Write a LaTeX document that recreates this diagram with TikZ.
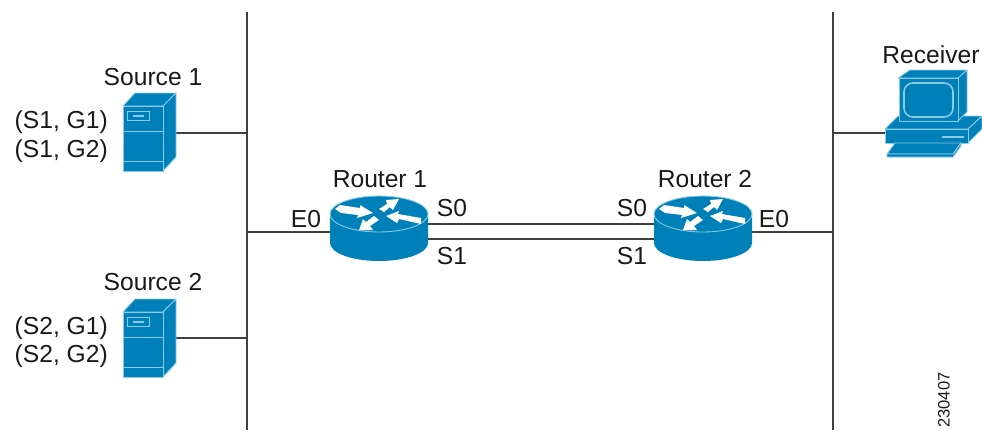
\documentclass[tikz,border=0pt]{standalone}
\usepackage{fontspec}
\setmainfont{Liberation Sans}
\usetikzlibrary{positioning}
\definecolor{iconblue}{HTML}{0080B9}
\definecolor{iconedge}{HTML}{8CCBE6}
\tikzset{
  wire/.style={draw=black!75,line width=.35pt},
  lab/.style={inner sep=0pt,font=\fontsize{7}{8}\selectfont,text=black!90},
  iconbox/.style={inner sep=0pt,outer sep=0pt},
  face/.style={fill=iconblue,draw=iconedge,line width=.25pt,line join=round},
  flash/.style={draw=iconedge,line width=.25pt},
  server/.pic={
    \begin{scope}[yscale=-1]
    \draw[face] (0,0) -- (12,13) -- (53,13) -- (40,0) -- cycle;
    \draw[face] (40,0) -- (53,13) -- (53,-51) -- (40,-65) -- cycle;
    \draw[face] (0,0) rectangle (40,-65);
    \draw[flash] (0,-25) -- (40,-25);
    \draw[flash] (0,-55) -- (40,-55);
    \draw[flash] (4,-5) rectangle (26,-14);
    \draw[flash,line width=.5pt] (10,-10) -- (21,-10);
    \end{scope}
  },
  routericon/.pic={
    \begin{scope}[yscale=-1]
    \fill[iconblue] (-49,0) -- (-49,-29) arc (180:360:49 and 18) -- (49,0) -- cycle;
    \draw[face] (0,0) ellipse (49 and 18);
    \end{scope}
    \fill[white] (-44,-5) -- (-39,-9) -- (-19,-6) -- (-19,-9) -- (-6,-1) -- (-22,4) -- (-21,1) -- (-38,-1) -- cycle;
    \fill[white] (0,-5) -- (8,-10) -- (7,-14) -- (20,-15) -- (14,-4) -- (11,-7) -- (5,-2) -- cycle;
    \fill[white] (7,2) -- (20,-3) -- (19,0) -- (42,4) -- (42,10) -- (20,5) -- (18,9) -- cycle;
    \fill[white] (-20,16) -- (-16,5) -- (-13,8) -- (-5,2) -- (0,6) -- (-9,12) -- (-6,16) -- cycle;
  },
  pcicon/.pic={
    \draw[face] (0,43) -- (13,30) -- (97,30) -- (83,43) -- cycle;
    \draw[face] (83,43) -- (97,30) -- (97,43) -- (83,57) -- cycle;
    \draw[face] (0,43) rectangle (83,57);
    \draw[flash,line width=.5pt] (57,51) -- (79,51);
    \draw[face] (13,-8) -- (25,-16) -- (82,-16) -- (73,-8) -- cycle;
    \draw[face] (73,-8) -- (82,-16) -- (82,26) -- (73,35) -- cycle;
    \draw[face] (14,-8) rectangle (73,35);
    \draw[flash,line width=.45pt,rounded corners=2.5] (19,-3) rectangle (68,31);
    \draw[face] (10,57) -- (76,57) -- (68,68) -- (2,68) -- cycle;
    \draw[face] (2,68) -- (68,68) -- (76,57) -- (76,60) -- (68,71) -- (2,71) -- cycle;
  },
}
\begin{document}
\begin{tikzpicture}[x=.01cm,y=-.01cm]
\useasboundingbox (0,0) rectangle (982,430);
% shared segments
\coordinate (lefttop) at (247,12);
\coordinate (leftbot) at (247,430);
\coordinate (righttop) at (833,12);
\coordinate (rightbot) at (833,430);
\draw[wire] (lefttop) -- (leftbot);
\draw[wire] (righttop) -- (rightbot);
% hosts and routers
\node[iconbox,minimum width=.53cm,minimum height=.78cm] (source1) at (149.5,133) {};
\node[iconbox,minimum width=.53cm,minimum height=.78cm] (source2) at (149.5,338) {};
\node[iconbox,minimum width=.98cm,minimum height=.64cm] (router1) at (379,229) {};
\node[iconbox,minimum width=.98cm,minimum height=.64cm] (router2) at (703,229) {};
\node[iconbox,minimum width=.97cm,minimum height=.87cm] (receiver) at (933.5,113.5) {};
\draw[wire] (source1.east) -- (source1.east -| lefttop);
\draw[wire] (source2.east) -- (source2.east -| lefttop);
\draw[wire] ([yshift=-.03cm]router1.west) -- ([yshift=-.03cm]router1.west -| lefttop);
\draw[wire] ([yshift=-.03cm]router2.east) -- ([yshift=-.03cm]router2.east -| righttop);
\draw[wire] ([yshift=.05cm]router1.east) -- ([yshift=.05cm]router2.west);
\draw[wire] ([yshift=-.10cm]router1.east) -- ([yshift=-.10cm]router2.west);
\draw[wire] (receiver.west |- 0,133) -- (righttop |- 0,133);
\pic at (123,106) {server};
\pic at (123,312) {server};
\pic at (379,214) {routericon};
\pic at (703,214) {routericon};
\pic at (885,86) {pcicon};
% labels
\node[lab] (src1lab) at (153,77) {Source 1};
\node[lab] (src2lab) at (153,282) {Source 2};
\node[lab,anchor=west] (s1g1) at (14,122) {(S1, G1)};
\node[lab,anchor=west] (s1g2) at (14,151) {(S1, G2)};
\node[lab,anchor=west] (s2g1) at (14,328) {(S2, G1)};
\node[lab,anchor=west] (s2g2) at (14,356) {(S2, G2)};
\node[lab] (r1lab) at (380,179) {Router 1};
\node[lab] (r2lab) at (705,179) {Router 2};
\node[lab] (rxlab) at (931,55) {Receiver};
\node[lab] (e0a) at (306,219) {E0};
\node[lab] (s0a) at (452,208) {S0};
\node[lab] (s1a) at (452,256) {S1};
\node[lab] (s0b) at (632,208) {S0};
\node[lab] (s1b) at (632,256) {S1};
\node[lab] (e0b) at (774,219) {E0};
\node[lab,rotate=90,font=\fontsize{4.7}{5}\selectfont] (fignum) at (944,400) {230407};
\end{tikzpicture}
\end{document}
